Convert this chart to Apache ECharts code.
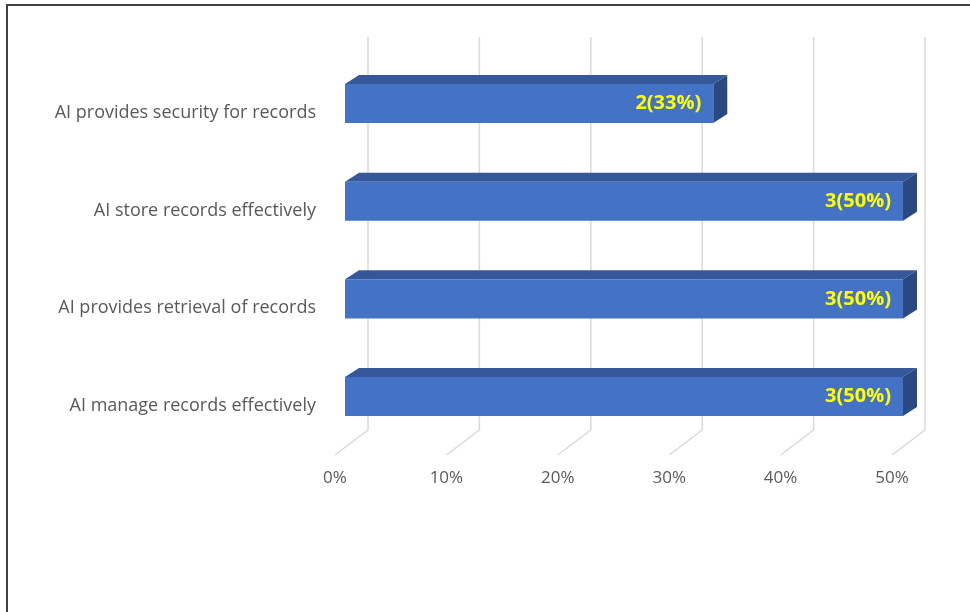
<!DOCTYPE html>
<html>
<head>
<meta charset="utf-8">
<script src="https://cdn.jsdelivr.net/npm/echarts@6/dist/echarts.min.js"></script>
<style>
html,body{margin:0;padding:0;background:#fff;}
#c{width:970px;height:612px;}
</style>
</head>
<body>
<div id="c"></div>
<script>
var categories = [
  'AI provides security for records',
  'AI store records effectively',
  'AI provides retrieval of records',
  'AI manage records effectively'
];
var counts = [2, 3, 3, 3];
var percents = [33, 50, 50, 50];
var tickValues = [0, 10, 20, 30, 40, 50];

var chart = echarts.init(document.getElementById('c'), null, {renderer: 'canvas'});

var barData = percents.map(function (p, i) { return [p, i, counts[i]]; });
var floorData = tickValues.map(function (t) { return [t, 0]; });

var DX = 14, DY = -9;

function renderBar(params, api) {
  var v = api.value(0), ci = api.value(1), cnt = api.value(2);
  var s = api.coord([0, ci]);
  var e = api.coord([v, ci]);
  var bw = api.size([0, 1])[1] * 0.4;
  var x0 = s[0], x1 = e[0], y0 = s[1] - bw / 2, y1 = s[1] + bw / 2;
  return {
    type: 'group',
    children: [
      {type: 'polygon', shape: {points: [[x0, y0], [x0 + DX, y0 + DY], [x1 + DX, y0 + DY], [x1, y0]]}, style: {fill: '#34589a'}},
      {type: 'polygon', shape: {points: [[x1, y0], [x1 + DX, y0 + DY], [x1 + DX, y1 + DY], [x1, y1]]}, style: {fill: '#2a4983'}},
      {type: 'rect', shape: {x: x0, y: y0, width: x1 - x0, height: y1 - y0}, style: {fill: '#4472C4'}},
      {type: 'text', style: {text: cnt + '(' + v + '%)', x: x1 - 12, y: (y0 + y1) / 2, align: 'right', verticalAlign: 'middle', fill: '#ffff00', font: 'bold 20px "Open Sans"'}}
    ]
  };
}

function renderFloor(params, api) {
  var p = api.coord([api.value(0), 0]);
  var cs = params.coordSys;
  var bottom = cs.y + cs.height;
  return {
    type: 'polyline',
    shape: {points: [[p[0], cs.y], [p[0], bottom], [p[0] - 33, bottom + 25]]},
    style: {stroke: '#d9d9d9', lineWidth: 1.5, fill: null}
  };
}

chart.setOption({
  animation: false,
  backgroundColor: '#fff',
  grid: [
    {left: 368, width: 557, top: 37, height: 393},
    {left: 345, width: 558, top: 54.7, height: 390.7},
    {left: 345, width: 558, top: 64, height: 390.7},
    {left: 335, width: 557, top: 400, height: 55}
  ],
  xAxis: [
    {gridIndex: 0, type: 'value', min: 0, max: 50, interval: 10, show: false},
    {gridIndex: 1, type: 'value', min: 0, max: 50, interval: 10, show: false},
    {gridIndex: 2, type: 'value', min: 0, max: 50, interval: 10, show: false},
    {gridIndex: 3, type: 'value', min: 0, max: 50, interval: 10,
      axisLine: {show: false}, axisTick: {show: false}, splitLine: {show: false},
      axisLabel: {formatter: '{value}%', color: '#595959', fontSize: 17, fontFamily: 'Open Sans', margin: 15}}
  ],
  yAxis: [
    {gridIndex: 0, type: 'category', data: categories, inverse: true, show: false},
    {gridIndex: 1, type: 'category', data: categories, inverse: true, show: false},
    {gridIndex: 2, type: 'category', data: categories, inverse: true,
      axisLine: {show: false}, axisTick: {show: false}, splitLine: {show: false},
      axisLabel: {color: '#595959', fontSize: 18, fontFamily: 'Open Sans', margin: 29}},
    {gridIndex: 3, type: 'value', show: false}
  ],
  series: [
    {type: 'custom', xAxisIndex: 0, yAxisIndex: 0, data: floorData, renderItem: renderFloor, silent: true, z: 1},
    {type: 'custom', xAxisIndex: 1, yAxisIndex: 1, data: barData, renderItem: renderBar, z: 2}
  ],
  graphic: [
    {type: 'polyline', shape: {points: [[7, 612], [7, 5], [970, 5]]}, style: {stroke: '#404040', lineWidth: 2, fill: null}, z: 10}
  ]
});
</script>
</body>
</html>
